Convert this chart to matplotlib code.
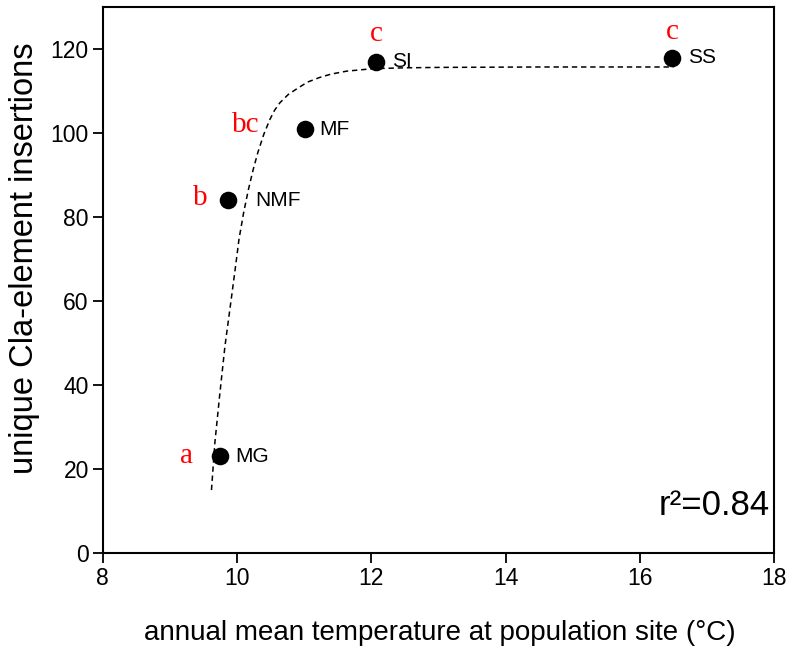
import matplotlib
matplotlib.use("Agg")
import matplotlib.pyplot as plt

# Data
sites = ["MG", "NMF", "MF", "SI", "SS"]
temperature = [9.75, 9.87, 11.02, 12.07, 16.48]
insertions = [23, 84, 101, 117, 118]
groups = ["a", "b", "bc", "c", "c"]

# fitted curve
curve_x = [9.62, 9.67, 9.74, 9.82, 9.92, 9.98, 10.03, 10.10, 10.17, 10.24, 10.31,
           10.40, 10.49, 10.56, 10.64, 10.76, 10.89, 11.05, 11.23, 11.40, 11.63,
           12.02, 12.5, 13.0, 14.5, 16.5]
curve_y = [15.0, 26.2, 37.3, 49.2, 61.2, 68.5, 74.8, 81.2, 86.6, 91.3, 95.4,
           99.8, 103.3, 105.5, 107.3, 109.2, 110.6, 112.2, 113.3, 114.1, 114.8,
           115.4, 115.6, 115.7, 115.8, 115.8]

r2_text = "r²=0.84"

plt.rcParams['font.family'] = ['Liberation Sans', 'DejaVu Sans']

fig = plt.figure(figsize=(7.9, 6.48), dpi=100)
ax = fig.add_axes([0.130, 0.1466, 0.850, 0.842])

ax.plot(curve_x, curve_y, linestyle=(0, (3.5, 2.5)), color='black', linewidth=1.1, zorder=2)
ax.scatter(temperature, insertions, s=160, color='black', zorder=3, linewidths=0)

label_offsets = {"MG": 0.23, "NMF": 0.40, "MF": 0.21, "SI": 0.24, "SS": 0.24}
for name, x, y in zip(sites, temperature, insertions):
    ax.text(x + label_offsets[name], y, name, fontsize=15, va='center', ha='left')

letter_pos = [(9.25, 23.0), (9.46, 84.5), (10.13, 102.0), (12.07, 123.6), (16.48, 124.2)]
for g, (lx, ly) in zip(groups, letter_pos):
    ax.text(lx, ly, g, fontsize=21, color='red', ha='center', va='center',
            family=['Liberation Serif', 'DejaVu Serif'])

ax.text(17.93, 7.5, r2_text, fontsize=25, ha='right', va='bottom')

ax.set_xlim(8, 18)
ax.set_ylim(0, 130)
ax.set_xticks([8, 10, 12, 14, 16, 18])
ax.set_yticks([0, 20, 40, 60, 80, 100, 120])
ax.tick_params(direction='out', length=7, width=1.3, labelsize=16.5, pad=3)
for sp in ax.spines.values():
    sp.set_linewidth(1.5)

ax.set_xlabel("annual mean temperature at population site (°C)", fontsize=20)
ax.set_ylabel("unique Cla-element insertions", fontsize=23.5)
ax.xaxis.set_label_coords(0.502, -0.123)
ax.yaxis.set_label_coords(-0.094, 0.540)

fig.savefig("out.png", dpi=100)
